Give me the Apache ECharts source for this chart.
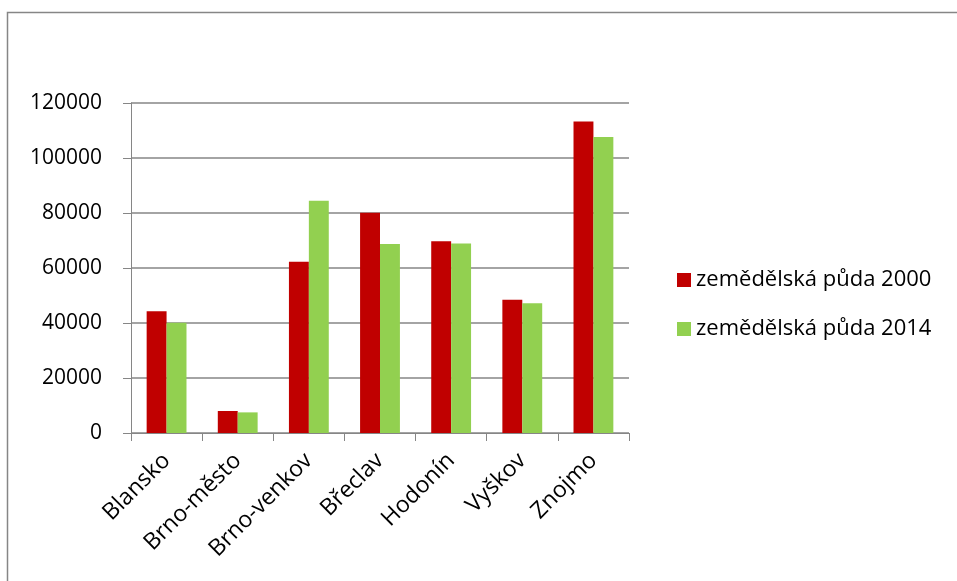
<!DOCTYPE html>
<html>
<head>
<meta charset="utf-8">
<script src="https://cdn.jsdelivr.net/npm/echarts@6/dist/echarts.min.js"></script>
<style>
html,body{margin:0;padding:0;background:#fff;}
#chart{width:957px;height:581px;}
</style>
</head>
<body>
<div id="chart"></div>
<script>
const categories = ["Blansko", "Brno-město", "Brno-venkov", "Břeclav", "Hodonín", "Vyškov", "Znojmo"];
const series2000 = [44300, 8000, 62300, 80100, 69700, 48500, 113300];
const series2014 = [40100, 7500, 84500, 68700, 68900, 47200, 107600];
const seriesNames = ["zemědělská půda 2000", "zemědělská půda 2014"];
const yTicks = { min: 0, max: 120000, interval: 20000 };

const FONT = "Open Sans";
const chart = echarts.init(document.getElementById('chart'), null, { renderer: 'canvas' });
chart.setOption({
  backgroundColor: '#ffffff',
  animation: false,
  textStyle: { fontFamily: FONT },
  graphic: [{
    type: 'rect',
    shape: { x: 7.5, y: 12.5, width: 970, height: 600 },
    style: { fill: 'none', stroke: '#868686', lineWidth: 1.5 },
    silent: true
  }],
  grid: { left: 131, right: 328, top: 103, bottom: 148 },
  legend: {
    orient: 'vertical',
    left: 672,
    top: 264,
    itemWidth: 14,
    itemHeight: 14,
    itemGap: 27,
    icon: 'rect',
    textStyle: { fontFamily: FONT, fontSize: 22, color: '#000', lineHeight: 22 },
    data: seriesNames
  },
  xAxis: {
    type: 'category',
    data: categories,
    axisLine: { lineStyle: { color: '#868686', width: 1 } },
    axisTick: { show: true, length: 8, alignWithLabel: false, lineStyle: { color: '#868686' } },
    axisLabel: { rotate: 45, margin: 24, fontFamily: FONT, fontSize: 23, color: '#000', interval: 0 }
  },
  yAxis: {
    type: 'value',
    min: yTicks.min,
    max: yTicks.max,
    interval: yTicks.interval,
    axisLine: { show: true, lineStyle: { color: '#868686', width: 1 } },
    axisTick: { show: true, length: 8, lineStyle: { color: '#868686' } },
    axisLabel: { margin: 29, fontFamily: FONT, fontSize: 21, color: '#000', formatter: function (v) { return String(v); } },
    splitLine: { lineStyle: { color: '#868686', width: 1.5 } }
  },
  series: [
    { name: seriesNames[0], type: 'bar', data: series2000, itemStyle: { color: '#C00000' }, barGap: '0%', barCategoryGap: '44%' },
    { name: seriesNames[1], type: 'bar', data: series2014, itemStyle: { color: '#92D050' }, barGap: '0%', barCategoryGap: '44%' }
  ]
});
</script>
</body>
</html>
